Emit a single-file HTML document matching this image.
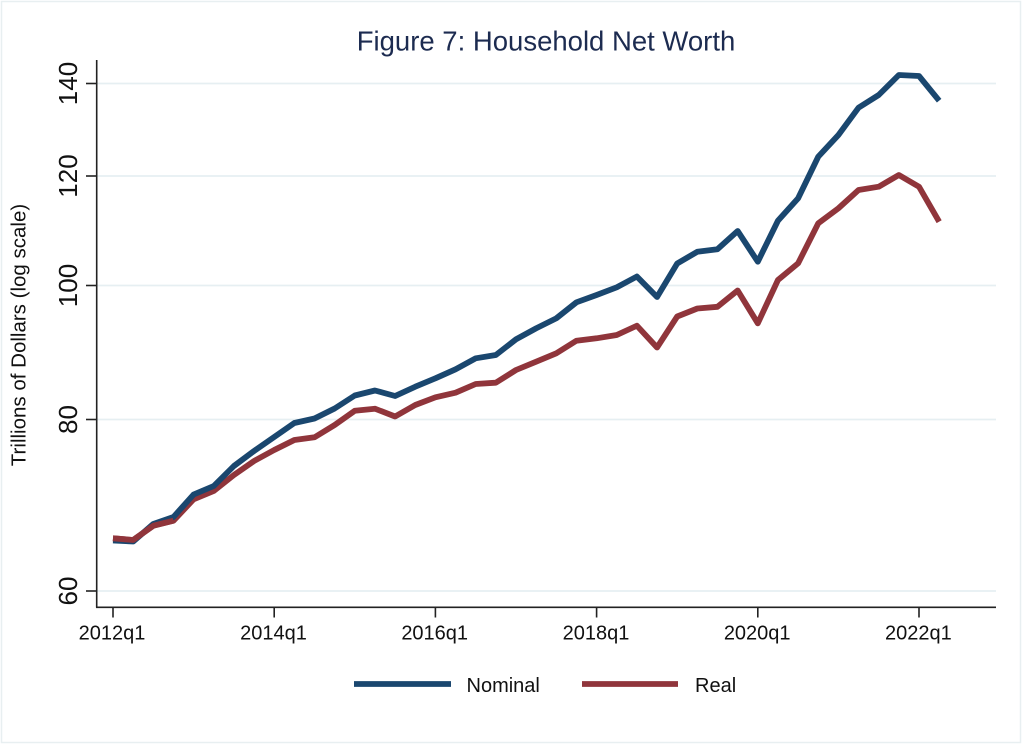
<!DOCTYPE html>
<html>
<head>
<meta charset="utf-8">
<style>
html,body{margin:0;padding:0;background:#fff;}
svg{display:block;}
text{font-family:"Liberation Sans",Arial,sans-serif;}
</style>
</head>
<body>
<svg width="1023" height="744" viewBox="0 0 1023 744" xmlns="http://www.w3.org/2000/svg">
<rect x="0" y="0" width="1023" height="744" fill="#ffffff"/>
<rect x="1.5" y="1.5" width="1019" height="741" fill="none" stroke="#e8eff1" stroke-width="1.5"/>

<text x="546" y="50.5" text-anchor="middle" font-size="27.5" fill="#1c2b50">Figure 7: Household Net Worth</text>

<!-- gridlines -->
<g stroke="#e6eff2" stroke-width="1.7">
<line x1="97" y1="83.5" x2="996" y2="83.5"/>
<line x1="97" y1="176" x2="996" y2="176"/>
<line x1="97" y1="285.5" x2="996" y2="285.5"/>
<line x1="97" y1="419.5" x2="996" y2="419.5"/>
<line x1="97" y1="591" x2="996" y2="591"/>
</g>

<!-- axes -->
<g stroke="#222" stroke-width="1.6" fill="none">
<line x1="96.7" y1="60" x2="96.7" y2="607.5"/>
<line x1="96" y1="607.3" x2="996" y2="607.3"/>
<line x1="86" y1="83.5" x2="96.7" y2="83.5"/>
<line x1="86" y1="176" x2="96.7" y2="176"/>
<line x1="86" y1="285.5" x2="96.7" y2="285.5"/>
<line x1="86" y1="419.5" x2="96.7" y2="419.5"/>
<line x1="86" y1="591" x2="96.7" y2="591"/>
<line x1="113" y1="607.3" x2="113" y2="617.5"/>
<line x1="274.2" y1="607.3" x2="274.2" y2="617.5"/>
<line x1="435.4" y1="607.3" x2="435.4" y2="617.5"/>
<line x1="596.6" y1="607.3" x2="596.6" y2="617.5"/>
<line x1="757.8" y1="607.3" x2="757.8" y2="617.5"/>
<line x1="919" y1="607.3" x2="919" y2="617.5"/>
</g>

<!-- y tick labels -->
<g font-size="26" fill="#111" text-anchor="middle">
<text transform="translate(77,83.5) rotate(-90)">140</text>
<text transform="translate(77,176) rotate(-90)">120</text>
<text transform="translate(77,285.5) rotate(-90)">100</text>
<text transform="translate(77,419.5) rotate(-90)">80</text>
<text transform="translate(77,591) rotate(-90)">60</text>
</g>
<text transform="translate(25.5,335) rotate(-90)" text-anchor="middle" font-size="20.5" fill="#111">Trillions of Dollars (log scale)</text>

<!-- x tick labels -->
<g font-size="20" fill="#111" text-anchor="middle">
<text x="112" y="639.5">2012q1</text>
<text x="273.5" y="639.5">2014q1</text>
<text x="434.7" y="639.5">2016q1</text>
<text x="596" y="639.5">2018q1</text>
<text x="757.2" y="639.5">2020q1</text>
<text x="918.4" y="639.5">2022q1</text>
</g>

<!-- series -->
<polyline fill="none" stroke="#90353b" stroke-width="5.8" stroke-linejoin="round" stroke-linecap="butt"
points="113,538.3 133.15,540 153.3,525.7 173.45,520.7 193.6,499.3 213.75,491 233.9,475 254.05,461 274.2,450 294.35,440 314.5,437.3 334.65,425 354.8,410.7 374.95,408.7 395.1,416.5 415.25,405 435.4,397.3 455.55,392.7 475.7,384 495.85,382.7 516,370 536.15,361.7 556.3,353.3 576.45,340.7 596.6,338.3 616.75,335 636.9,325.7 657.05,347.5 677.2,316.5 697.35,308.5 717.5,306.8 737.65,290.5 757.8,323.3 777.95,280 798.1,263.3 818.25,223.3 838.4,208.3 858.55,190 878.7,186.7 898.85,175 919,186.7 939.15,221.7"/>
<polyline fill="none" stroke="#1a476f" stroke-width="5.8" stroke-linejoin="round" stroke-linecap="butt"
points="113,540.5 133.15,541.5 153.3,524 173.45,517 193.6,494.5 213.75,486 233.9,466 254.05,451 274.2,437 294.35,423 314.5,418.5 334.65,408.5 354.8,395.5 374.95,390.5 395.1,396 415.25,386.7 435.4,378.3 455.55,369.3 475.7,358.3 495.85,355 516,339.3 536.15,328.3 556.3,318.3 576.45,302.3 596.6,295 616.75,287.3 636.9,276.5 657.05,297 677.2,263.5 697.35,251.7 717.5,249.2 737.65,231 757.8,261.7 777.95,220.7 798.1,198.3 818.25,156.7 838.4,135 858.55,107.7 878.7,95 898.85,75 919,76 939.15,100.7"/>
<polyline fill="none" stroke="#90353b" stroke-width="5.8" stroke-linejoin="round"
points="113,538.3 133.15,540 153.3,525.7 173.45,520.7"/>

<!-- legend -->
<line x1="354" y1="684" x2="451" y2="684" stroke="#1a476f" stroke-width="5.8"/>
<text x="466.5" y="692" font-size="20" fill="#111">Nominal</text>
<line x1="582" y1="684" x2="678" y2="684" stroke="#90353b" stroke-width="5.8"/>
<text x="695" y="692" font-size="20" fill="#111">Real</text>
</svg>
</body>
</html>
